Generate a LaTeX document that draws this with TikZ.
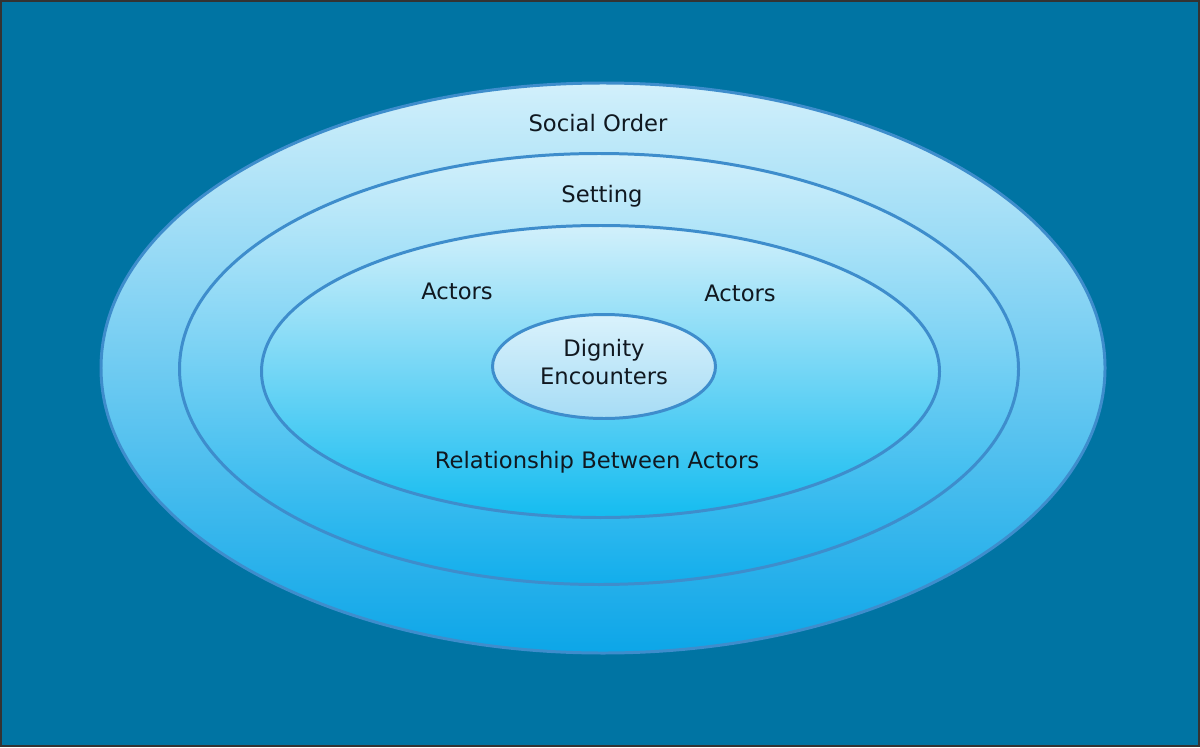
\documentclass[tikz,border=0pt]{standalone}
\usepackage{fontspec}
\setmainfont{DejaVu Sans}
\usepackage{xcolor}
\usetikzlibrary{shapes.geometric}

\definecolor{bgblue}{HTML}{0074A3}
\definecolor{ringline}{HTML}{3E8DCC}
\definecolor{toplight}{HTML}{D2F0FB}
\definecolor{orderlow}{HTML}{0CA6E8}
\definecolor{settinglow}{HTML}{12AEEC}
\definecolor{actorslow}{HTML}{14BCF0}
\definecolor{dignitytop}{HTML}{DAF2FC}
\definecolor{dignitylow}{HTML}{A6DCF5}
\definecolor{labelink}{HTML}{101820}

\begin{document}
\begin{tikzpicture}[
    ring/.style={ellipse, draw=ringline, line width=1.7pt, inner sep=0pt},
    label/.style={text=labelink, font=\fontsize{12.9}{16}\selectfont, align=center}
]
\fill[bgblue] (0,0) rectangle (24,14.94);
\draw[black!80, line width=0.8pt] (0.02,0.02) rectangle (23.98,14.92);
\useasboundingbox (0,0) rectangle (24,14.94);
% rings from outside in
\node[ring, minimum width=20.08cm, minimum height=11.40cm, top color=toplight, bottom color=orderlow] (order) at (12.06,7.58) {};
\node[ring, minimum width=16.78cm, minimum height=8.62cm, top color=toplight, bottom color=settinglow] (setting) at (11.98,7.56) {};
\node[ring, minimum width=13.56cm, minimum height=5.84cm, top color=toplight, bottom color=actorslow] (actors) at (12.01,7.51) {};
\node[ring, minimum width=4.46cm, minimum height=2.08cm, top color=dignitytop, bottom color=dignitylow] (dignity) at (12.08,7.61) {};
% texts
\node[label] (ordertxt) at (11.96,12.48) {Social Order};
\node[label] (settingtxt) at (12.04,11.02) {Setting};
\node[label] (actorsl) at (9.14,9.12) {Actors};
\node[label] (actorsr) at (14.80,9.08) {Actors};
\node[label] (dignitytxt) at (12.08,7.70) {Dignity\\Encounters};
\node[label] (relation) at (11.94,5.70) {Relationship Between Actors};
\end{tikzpicture}
\end{document}
